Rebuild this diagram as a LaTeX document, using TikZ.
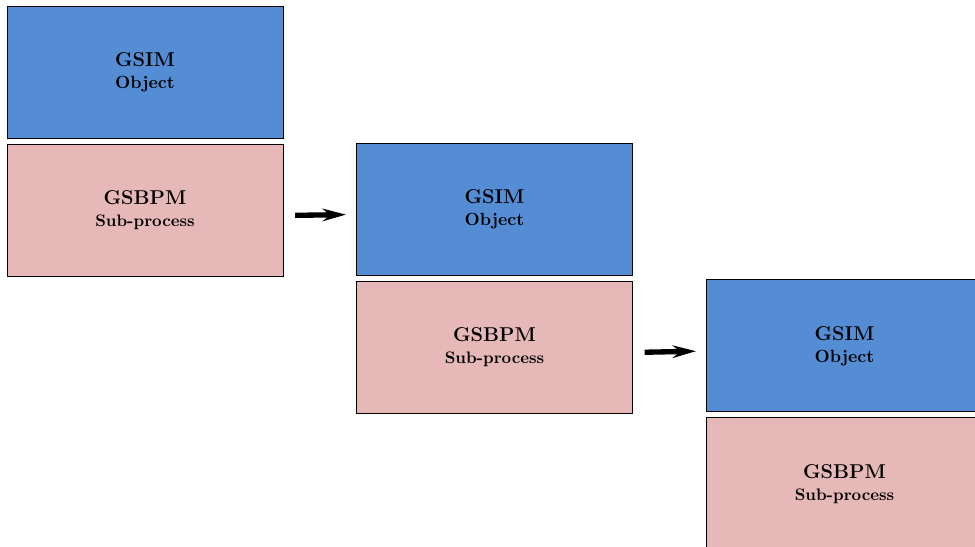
\documentclass[tikz,border=0pt]{standalone}
\usepackage{tikz}
\usetikzlibrary{positioning, arrows.meta, calc}
\definecolor{gsimblue}{HTML}{548DD4}
\definecolor{gsbpmpink}{HTML}{E6B8B7}

\begin{document}
\begin{tikzpicture}[x=0.6pt, y=0.6pt]
    \tikzset{
        gsim box/.style={
                draw=black, line width=0.6pt, fill=gsimblue, minimum width=165.6pt, minimum height=79.2pt,
                align=center, font=\bfseries
            },
        gsbpm box/.style={
                draw=black, line width=0.6pt, fill=gsbpmpink, minimum width=165.6pt, minimum height=79.2pt,
                align=center, font=\bfseries
            },
        flow/.style={
                -{Stealth[length=14pt, width=7.5pt]}, line width=3.2pt, black,
                shorten <=7pt, shorten >=6pt
            }
    }
    \clip (0, 0) rectangle (975, 546);

    % first step
    \node[gsim box] (gsimA) at (145, 473.5) {{\large GSIM}\\[1.2pt]\fontsize{10.6}{13}\selectfont Object};
    \node[gsbpm box, below=3pt of gsimA] (gsbpmA) {{\large GSBPM}\\[1.2pt]Sub-process};

    % second step
    \node[gsim box] (gsimB) at (494.5, 336.5) {{\large GSIM}\\[1.2pt]\fontsize{10.6}{13}\selectfont Object};
    \node[gsbpm box, below=3pt of gsimB] (gsbpmB) {{\large GSBPM}\\[1.2pt]Sub-process};

    % third step
    \node[gsim box] (gsimC) at (844.5, 200) {{\large GSIM}\\[1.2pt]\fontsize{10.6}{13}\selectfont Object};
    \node[gsbpm box, below=3pt of gsimC] (gsbpmC) {{\large GSBPM}\\[1.2pt]Sub-process};

    % hand over arrows
    \draw[flow] ([yshift=-3pt]gsbpmA.east) -- ([yshift=-3pt]gsimB.west);
    \draw[flow] ([yshift=-3pt]gsbpmB.east) -- ([yshift=-3pt]gsimC.west);
\end{tikzpicture}
\end{document}
